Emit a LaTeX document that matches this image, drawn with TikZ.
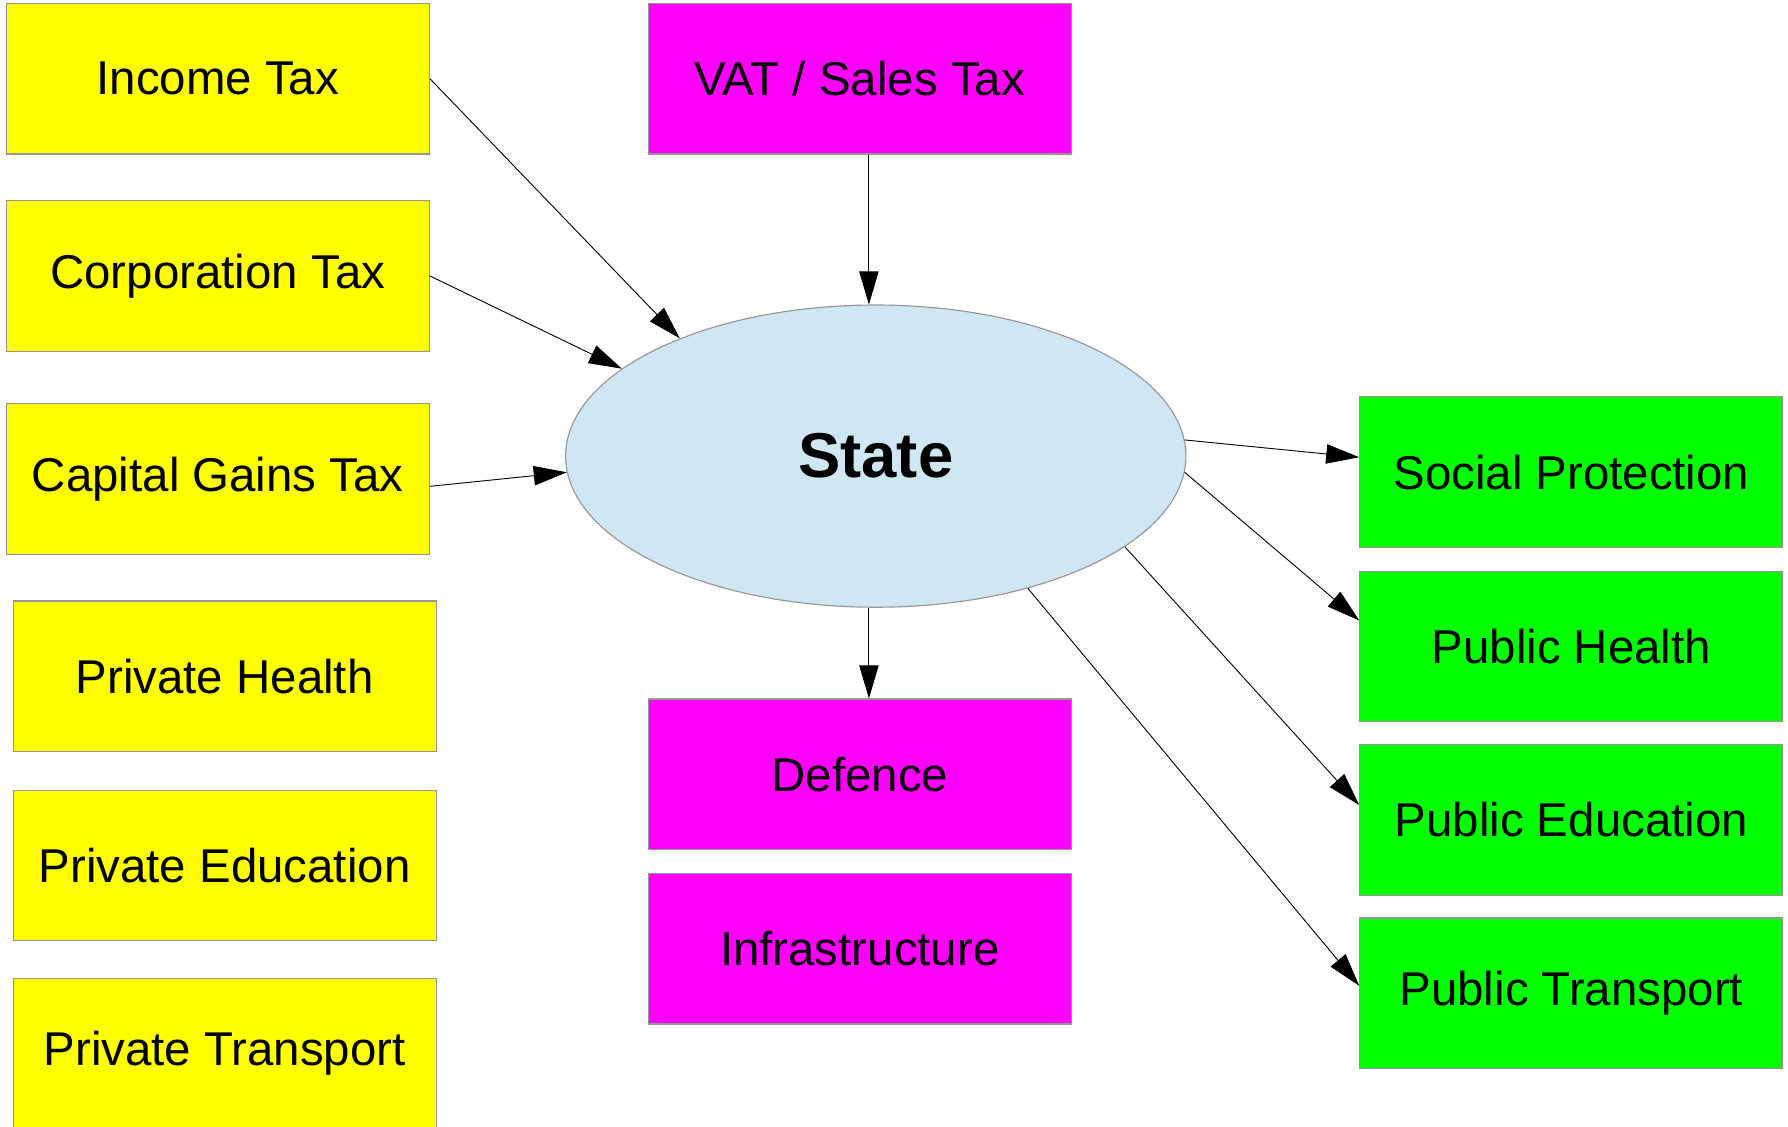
\documentclass[tikz,border=0pt]{standalone}
\usepackage{fontspec}
\setmainfont{Liberation Sans}
\usepackage{tikz}
\usetikzlibrary{shapes,arrows.meta}
\definecolor{taxyellow}{RGB}{255,255,0}
\definecolor{statemagenta}{RGB}{255,0,255}
\definecolor{publicgreen}{RGB}{0,255,0}
\definecolor{stateblue}{RGB}{207,230,243}
\definecolor{edgegray}{RGB}{150,150,150}

\begin{document}
\begin{tikzpicture}[x=0.5pt,y=-0.5pt,
  box/.style={draw=edgegray, line width=0.5pt, minimum width=185.5pt, minimum height=66pt,
    inner sep=0pt, font=\fontsize{20.8}{24}\selectfont},
  private/.style={box, fill=taxyellow},
  core/.style={box, fill=statemagenta},
  public/.style={box, fill=publicgreen},
  flow/.style={-{Triangle[length=14.5pt,width=8.5pt]}, line width=0.4pt}]

\useasboundingbox (0,0) rectangle (1568,988);

\node[private] (it) at (191,69) {Income Tax};
\node[private] (ct) at (191,242) {Corporation Tax};
\node[private] (cg) at (191,420) {Capital Gains Tax};
\node[private] (ph) at (197,593) {Private Health};
\node[private] (pe) at (197,759) {Private Education};
\node[private] (pt) at (197,924) {Private Transport};

\node[core] (vat) at (754,69) {VAT / Sales Tax};
\node[core] (def) at (754,679) {Defence};
\node[core] (inf) at (754,832) {Infrastructure};

\node[ellipse, draw=edgegray, line width=0.5pt, fill=stateblue, minimum width=272pt,
  minimum height=132.5pt, inner sep=0pt, font=\fontsize{27.8}{32}\selectfont\bfseries]
  (state) at (768,400) {State};

\node[public] (sp) at (1378,414) {Social Protection};
\node[public] (uh) at (1378,567) {Public Health};
\node[public] (ue) at (1378,719) {Public Education};
\node[public] (ut) at (1378,871) {Public Transport};

% money in
\draw[flow] (it.east) -- (state.149);
\draw[flow] (ct.east) -- (state.161);
\draw[flow] (cg.-2) -- (state.183);
\draw[flow] ([xshift=-3pt]vat.south -| state.north) -- ([xshift=-3pt]state.north);

% money out
\draw[flow] ([xshift=-3pt]state.south) -- ([xshift=-3pt]state.south |- def.north);
\draw[flow] (state.3) -- (sp.176);
\draw[flow] (state.-3) -- (uh.173);
\draw[flow] (state.-20) -- (ue.176);
\draw[flow] (state.-41) -- (ut.178);

\end{tikzpicture}
\end{document}
